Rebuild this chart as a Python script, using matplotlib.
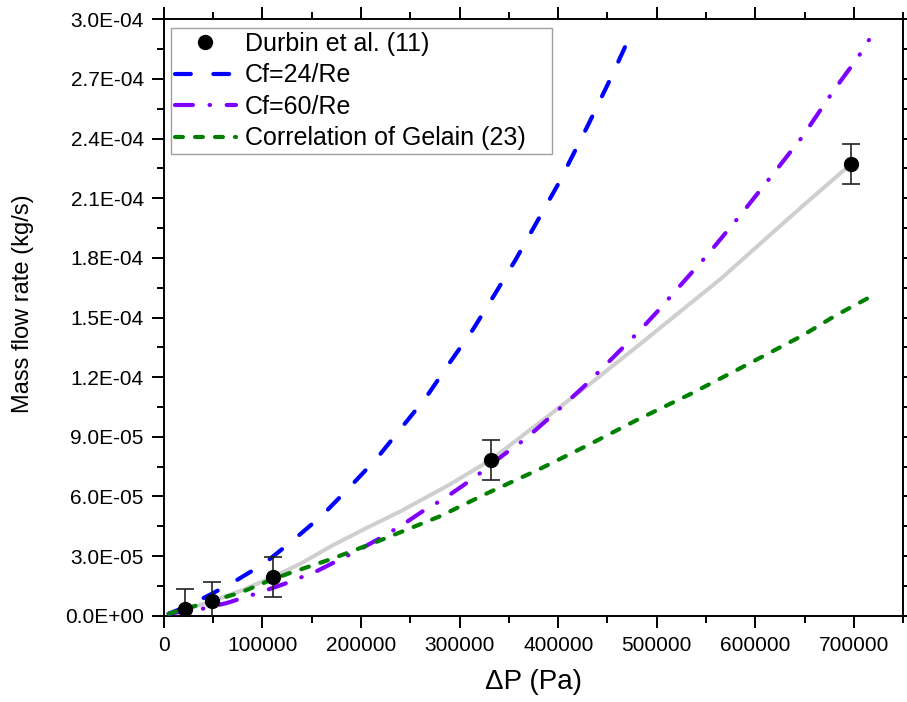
import matplotlib
matplotlib.use("Agg")
import matplotlib.pyplot as plt
from matplotlib.lines import Line2D
from matplotlib.ticker import MultipleLocator, FuncFormatter

plt.rcParams['font.family'] = ['Liberation Sans', 'DejaVu Sans']

# experimental points (Durbin et al.)
dp_exp = [22000, 49000, 111000, 332000, 697000]
m_exp = [3.2e-6, 7.2e-6, 1.96e-5, 7.85e-5, 2.272e-4]
m_err = [1.0e-5, 1.0e-5, 1.0e-5, 1.0e-5, 1.0e-5]

# gray guide line
dp_gray = [5000, 22000, 49000, 80000, 111000, 138000, 172000, 205000, 240000, 290000,
           332000, 380000, 433000, 484000, 534000, 565000, 600000, 650000, 697000]
m_gray = [1.0e-6, 3.2e-6, 7.3e-6, 1.29e-5, 1.96e-5, 2.6e-5, 3.56e-5, 4.4e-5, 5.25e-5, 6.6e-5,
          7.85e-5, 9.67e-5, 1.169e-4, 1.37e-4, 1.571e-4, 1.695e-4, 1.85e-4, 2.07e-4, 2.272e-4]

# Cf=24/Re
dp_24 = [5000, 20000, 36800, 48600, 71300, 101700, 130500, 160300, 189000, 216100, 241500,
         266200, 289600, 313200, 335200, 356600, 400000, 430000, 453700, 476000]
m_24 = [1.0e-6, 4.0e-6, 8.0e-6, 1.1e-5, 1.71e-5, 2.62e-5, 3.77e-5, 5.03e-5, 6.49e-5, 7.92e-5, 9.48e-5,
        1.10e-4, 1.27e-4, 1.437e-4, 1.613e-4, 1.789e-4, 2.171e-4, 2.465e-4, 2.708e-4, 2.95e-4]

# Cf=60/Re
dp_60 = [5000, 40000, 64000, 98000, 125000, 155000, 197500, 221800, 243200, 261800, 284500,
         304100, 322700, 344700, 366700, 385300, 405600, 425900, 444600, 463100, 481700,
         500400, 521300, 551200, 584000, 617200, 647600, 679700, 703400, 715200]
m_60 = [1.0e-6, 3.6e-6, 6.4e-6, 1.18e-5, 1.65e-5, 2.24e-5, 3.3e-5, 3.97e-5, 4.61e-5, 5.23e-5, 5.9e-5,
        6.57e-5, 7.24e-5, 8.1e-5, 8.89e-5, 9.7e-5, 1.06e-4, 1.152e-4, 1.244e-4, 1.336e-4, 1.429e-4,
        1.529e-4, 1.647e-4, 1.814e-4, 2.01e-4, 2.217e-4, 2.409e-4, 2.644e-4, 2.804e-4, 2.896e-4]

# Correlation of Gelain
dp_gel = [5000, 22000, 49000, 77000, 111000, 131500, 155000, 172000, 220000, 280000, 328000,
          380000, 431000, 480000, 534000, 582000, 648000, 681000, 717000]
m_gel = [1.0e-6, 3.5e-6, 7.5e-6, 1.15e-5, 1.85e-5, 2.21e-5, 2.6e-5, 2.89e-5, 3.8e-5, 5.0e-5, 6.16e-5,
         7.35e-5, 8.6e-5, 9.85e-5, 1.115e-4, 1.238e-4, 1.41e-4, 1.509e-4, 1.605e-4]

fig = plt.figure(figsize=(9.07, 7.02), dpi=100)
ax = fig.add_axes([0.1806, 0.1229, 0.8153, 0.8496])

ax.plot(dp_gray, m_gray, color='#cfcfcf', lw=2.9, zorder=2)
ax.plot(dp_24, m_24, color='#0000ff', lw=3, dashes=(3.8, 5.4), dash_capstyle='round', zorder=3)
ax.plot(dp_60, m_60, color='#8000ff', lw=3, dashes=(4.3, 4.0, 0.1, 4.0), dash_capstyle='round', zorder=3)
ax.plot(dp_gel, m_gel, color='#008000', lw=3, dashes=(1.9, 2.9), dash_capstyle='round', zorder=3)
ax.errorbar(dp_exp, m_exp, yerr=m_err, fmt='o', color='black', ms=10, ecolor='#222222',
            elinewidth=1.2, capsize=6.5, capthick=1.2, zorder=4)

ax.set_xlim(0, 750000)
ax.set_ylim(0, 3.0e-4)
ax.xaxis.set_major_locator(MultipleLocator(100000))
ax.xaxis.set_minor_locator(MultipleLocator(50000))
ax.yaxis.set_major_locator(MultipleLocator(3.0e-5))
ax.yaxis.set_minor_locator(MultipleLocator(1.5e-5))
ax.yaxis.set_major_formatter(FuncFormatter(lambda v, p: f"{v:.1E}"))
ax.xaxis.set_major_formatter(FuncFormatter(lambda v, p: f"{int(round(v))}"))

ax.tick_params(which='both', direction='out', top=True, right=True, width=1.4,
               labelsize=15, colors='black')
ax.tick_params(which='major', length=8.5)
ax.tick_params(which='minor', length=5)
ax.tick_params(axis='x', pad=6)
ax.tick_params(axis='y', pad=6)
for s in ax.spines.values():
    s.set_linewidth(1.4)

ax.set_xlabel('ΔP (Pa)', fontsize=20, labelpad=10)
ax.set_ylabel('Mass flow rate (kg/s)', fontsize=17)
ax.yaxis.set_label_coords(-0.175, 0.524)

handles = [
    Line2D([], [], ls='none', marker='o', ms=10, color='black'),
    Line2D([], [], color='#0000ff', lw=3, dashes=(3.8, 5.4), dash_capstyle='round'),
    Line2D([], [], color='#8000ff', lw=3, dashes=(4.3, 4.0, 0.1, 4.0), dash_capstyle='round'),
    Line2D([], [], color='#008000', lw=3, dashes=(1.9, 2.9), dash_capstyle='round'),
]
labels = ['Durbin et al. (11)', 'Cf=24/Re', 'Cf=60/Re', 'Correlation of Gelain (23)']
leg = ax.legend(handles, labels, loc='upper left', bbox_to_anchor=(0.0097, 0, 0.515, 0.9854),
                mode='expand', borderaxespad=0, fontsize=18, frameon=True, fancybox=False,
                edgecolor='#888888', handlelength=2.45, handletextpad=0.35,
                labelspacing=0.3, borderpad=0.15)
leg.get_frame().set_linewidth(1.0)

fig.savefig('out.png', dpi=100)
